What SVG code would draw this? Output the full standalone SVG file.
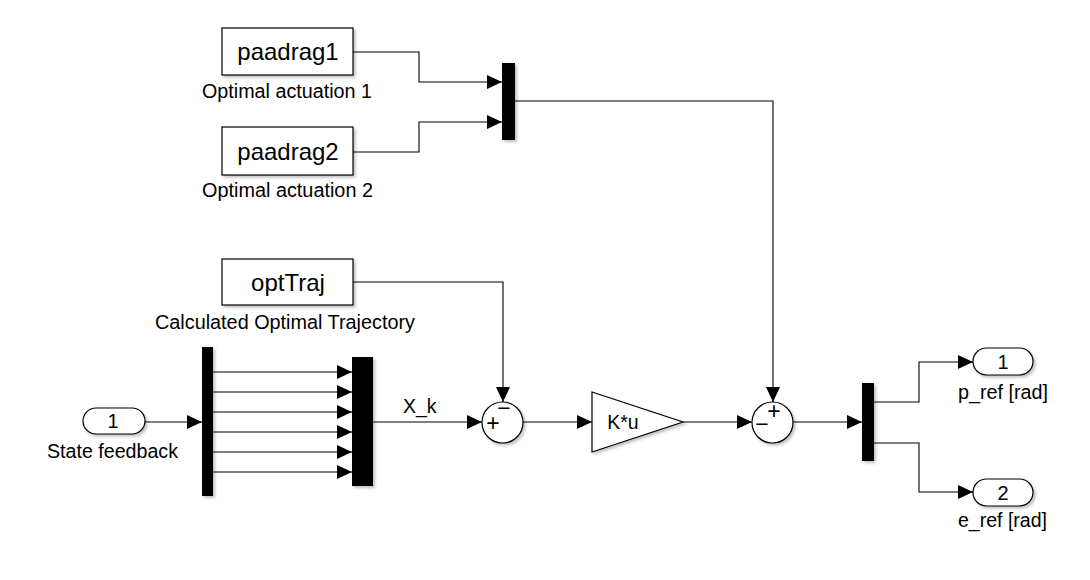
<svg xmlns="http://www.w3.org/2000/svg" width="1090" height="580" viewBox="0 0 1090 580">
  <style>
    .blk { fill: #ffffff; stroke: #000000; stroke-width: 1.2; filter: url(#shadow); }
    .bar { fill: #000000; filter: url(#shadow); }
    .wire { fill: none; stroke: #000000; stroke-width: 1.1; marker-end: url(#arrow); }
    .name { font-family: "Liberation Sans", Arial, sans-serif; font-size: 24px; fill: #000000; text-anchor: middle; }
    .lbl { font-family: "Liberation Sans", Arial, sans-serif; font-size: 19.5px; fill: #000000; }
    .port { font-family: "Liberation Sans", Arial, sans-serif; font-size: 20px; fill: #000000; text-anchor: middle; }
    .sign { font-family: "Liberation Sans", Arial, sans-serif; font-size: 23px; fill: #000000; text-anchor: middle; }
  </style>
  <defs>
    <filter id="shadow" x="-20%" y="-20%" width="150%" height="150%">
      <feDropShadow dx="2" dy="2" stdDeviation="1.5" flood-color="#000000" flood-opacity="0.25"/>
    </filter>
    <marker id="arrow" markerWidth="16" markerHeight="14" refX="15" refY="7" orient="auto" markerUnits="userSpaceOnUse">
      <path d="M0,0 L15,7 L0,14 Z" fill="#000000"/>
    </marker>
  </defs>
  <rect width="1090" height="580" fill="#ffffff"/>

  <!-- signal lines -->
  <g id="connectors">
    <polyline class="wire" points="353,52 419,52 419,82 502,82"/>
    <polyline class="wire" points="353,152 419,152 419,122 502,122"/>
    <polyline class="wire" points="515,101 773,101 773,402"/>
    <polyline class="wire" points="353,282 503,282 503,402"/>
    <line class="wire" x1="145" y1="422" x2="202" y2="422"/>
    <line class="wire" x1="213" y1="372" x2="352" y2="372"/>
    <line class="wire" x1="213" y1="392" x2="352" y2="392"/>
    <line class="wire" x1="213" y1="412" x2="352" y2="412"/>
    <line class="wire" x1="213" y1="432" x2="352" y2="432"/>
    <line class="wire" x1="213" y1="452" x2="352" y2="452"/>
    <line class="wire" x1="213" y1="472" x2="352" y2="472"/>
    <line class="wire" x1="373" y1="422" x2="482" y2="422"/>
    <line class="wire" x1="523" y1="422" x2="592" y2="422"/>
    <line class="wire" x1="683" y1="422" x2="752" y2="422"/>
    <line class="wire" x1="793" y1="422" x2="862" y2="422"/>
    <polyline class="wire" points="874,402 919,402 919,362 973,362"/>
    <polyline class="wire" points="874,443 919,443 919,492 973,492"/>
    <text class="lbl" x="403" y="413" font-size="18">X_k</text>
  </g>

  <!-- source blocks -->
  <g id="paadrag1">
    <rect class="blk" x="222" y="28" width="131" height="47"/>
    <text class="name" x="288" y="60">paadrag1</text>
    <text class="lbl" x="202" y="98" textLength="170" lengthAdjust="spacingAndGlyphs">Optimal actuation 1</text>
  </g>
  <g id="paadrag2">
    <rect class="blk" x="222" y="127" width="131" height="48"/>
    <text class="name" x="288" y="160">paadrag2</text>
    <text class="lbl" x="202" y="197" textLength="171" lengthAdjust="spacingAndGlyphs">Optimal actuation 2</text>
  </g>
  <g id="optTraj">
    <rect class="blk" x="222" y="259" width="131" height="46"/>
    <text class="name" x="288" y="291">optTraj</text>
    <text class="lbl" x="155" y="329" textLength="260" lengthAdjust="spacingAndGlyphs">Calculated Optimal Trajectory</text>
  </g>

  <!-- actuation mux -->
  <g id="mux_act">
    <rect class="bar" x="502" y="63" width="13" height="77"/>
  </g>

  <!-- state feedback input -->
  <g id="in_state">
    <rect class="blk" x="83" y="408" width="62" height="26" rx="13" ry="13"/>
    <text class="port" x="113" y="428">1</text>
    <text class="lbl" x="47" y="458" textLength="131" lengthAdjust="spacingAndGlyphs">State feedback</text>
  </g>

  <!-- state demux / mux -->
  <g id="demux_state">
    <rect class="bar" x="202" y="347" width="11" height="149"/>
  </g>
  <g id="mux_state">
    <rect class="bar" x="352" y="357" width="21" height="129"/>
  </g>

  <!-- error sum -->
  <g id="sum_err">
    <circle class="blk" cx="502.5" cy="422.5" r="20.5"/>
    <text class="sign" x="493" y="431">+</text>
    <text class="sign" x="504" y="416">−</text>
  </g>

  <!-- feedback gain -->
  <g id="gain">
    <polygon class="blk" points="592,392 683,422 592,452"/>
    <text class="lbl" x="623" y="429" text-anchor="middle" font-size="21">K*u</text>
  </g>

  <!-- actuation sum -->
  <g id="sum_act">
    <circle class="blk" cx="772.5" cy="422.5" r="20.5"/>
    <text class="sign" x="762" y="432">−</text>
    <text class="sign" x="774" y="419">+</text>
  </g>

  <!-- reference demux -->
  <g id="demux_ref">
    <rect class="bar" x="862" y="383" width="12" height="78"/>
  </g>

  <!-- outputs -->
  <g id="out_p">
    <rect class="blk" x="973" y="348" width="60" height="27" rx="13.5" ry="13.5"/>
    <text class="port" x="1003" y="369">1</text>
    <text class="lbl" x="958" y="399" textLength="90" lengthAdjust="spacingAndGlyphs">p_ref [rad]</text>
  </g>
  <g id="out_e">
    <rect class="blk" x="973" y="479" width="60" height="27" rx="13.5" ry="13.5"/>
    <text class="port" x="1003" y="500">2</text>
    <text class="lbl" x="958" y="527" textLength="89" lengthAdjust="spacingAndGlyphs">e_ref [rad]</text>
  </g>
</svg>
